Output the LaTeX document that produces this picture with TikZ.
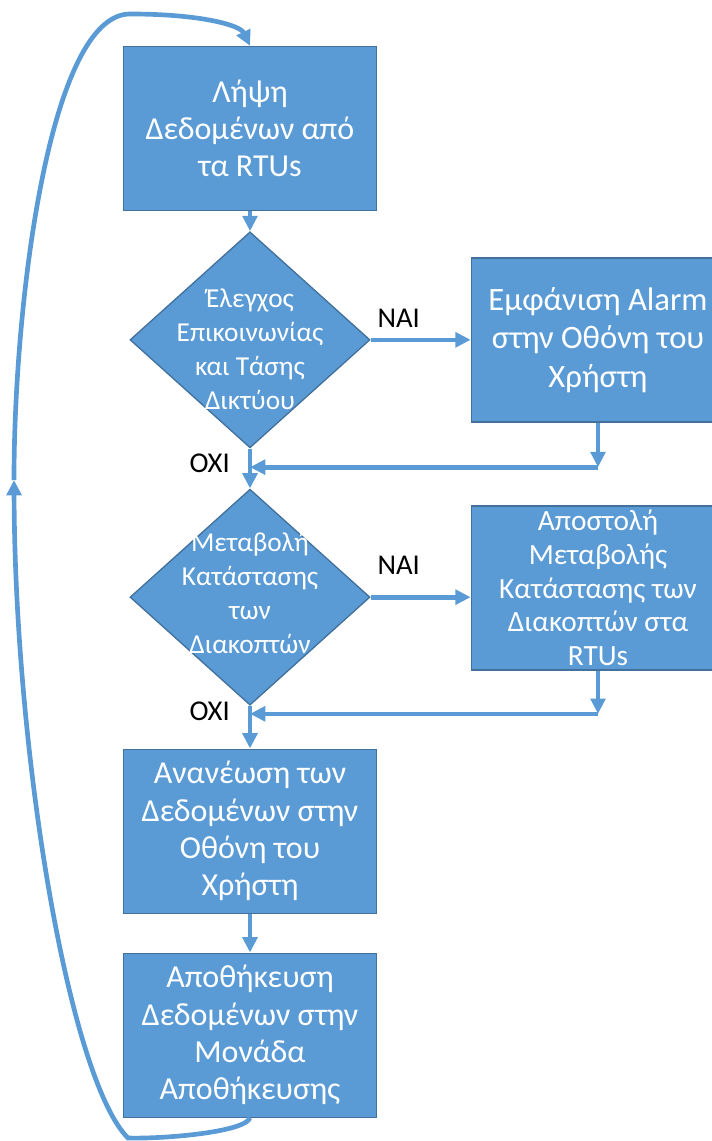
\documentclass[tikz,border=0pt]{standalone}
\usepackage{fontspec}
\setmainfont{Carlito}
\usetikzlibrary{arrows.meta,positioning,shapes.geometric}
\definecolor{flow}{HTML}{5B9BD5}
\definecolor{flowedge}{HTML}{41719C}

\begin{document}
\begin{tikzpicture}[x=0.75pt,y=-0.75pt,box/.style={draw=flowedge,line width=1pt,fill=flow,text=white,align=center,minimum width=190pt,minimum height=123pt,inner sep=1pt,font=\fontsize{24pt}{28pt}\selectfont},decision/.style={diamond,draw=flowedge,line width=1pt,fill=flow,minimum width=180pt,minimum height=162pt,inner sep=0pt},dtext/.style={text=white,align=center,inner sep=0pt,font=\fontsize{20.5pt}{25.5pt}\selectfont},tag/.style={inner sep=0pt,font=\fontsize{21.5pt}{25pt}\selectfont},arrow/.style={-{Triangle[length=11.5pt,width=11pt]},line width=3.5pt,draw=flow}]
\useasboundingbox (0,0) rectangle (712,1141);
\node[box] (fetch) at (250,128.5) {Λήψη\\Δεδομένων από\\τα RTUs};
\node[decision,below=15pt of fetch] (check) {};
\node[dtext,yshift=-7pt] (checktext) at (check) {Έλεγχος\\Επικοινωνίας\\και Τάσης\\Δικτύου};
\node[box,right=75pt of check,font=\fontsize{24.5pt}{29pt}\selectfont] (alarm) {Εμφάνιση Alarm\\στην Οθόνη του\\Χρήστη};
\node[decision,below=30pt of check] (switch) {};
\node[dtext,yshift=3pt] (switchtext) at (switch) {Μεταβολή\\Κατάστασης\\των\\Διακοπτών};
\node[box,right=75pt of switch,yshift=7pt,font=\fontsize{22pt}{25.3pt}\selectfont] (send) {Αποστολή\\Μεταβολής\\Κατάστασης των\\Διακοπτών στα\\RTUs};
\node[box,below=32pt of switch] (refresh) {Ανανέωση των\\Δεδομένων στην\\Οθόνη του\\Χρήστη};
\node[box,below=29pt of refresh] (store) {Αποθήκευση\\Δεδομένων στην\\Μονάδα\\Αποθήκευσης};
\coordinate[below=14pt of check.south] (join1);
\coordinate (drop1) at (alarm.south |- join1);
\coordinate[below=6pt of switch.south] (join2);
\coordinate (drop2) at (send.south |- join2);
\coordinate (sendin) at (switch.east -| send.west);
\coordinate (turn) at (128,1138);
\coordinate (back) at (14,480);
\coordinate (crest) at (130,14);
\node[tag,above right=9pt and 5pt of check.east] (yes1) {ΝΑΙ};
\node[tag,above right=17pt and 5pt of switch.east] (yes2) {ΝΑΙ};
\node[tag,left=15pt of join1,yshift=3pt] (no1) {ΟΧΙ};
\node[tag,left=15pt of join2,yshift=2pt] (no2) {ΟΧΙ};
\draw[arrow] (fetch) -- (check);
\draw[arrow] (check) -- (alarm); \draw[arrow] (alarm) -- (drop1); \draw[arrow] (drop1) -- (join1);
\draw[arrow] (check) -- (switch);
\draw[arrow] (switch.east) -- (sendin); \draw[arrow] (send) -- (drop2); \draw[arrow] (drop2) -- (join2);
\draw[arrow] (switch) -- (refresh);
\draw[arrow] (refresh) -- (store);
\draw[arrow] (store.south) .. controls (245,1132) and (165,1139) .. (turn) .. controls (70,1080) and (15,760) .. (back);
\draw[arrow] (back) .. controls (14,300) and (50,14) .. (crest) .. controls (200,14) and (240,25) .. (fetch.north);
\end{tikzpicture}
\end{document}
